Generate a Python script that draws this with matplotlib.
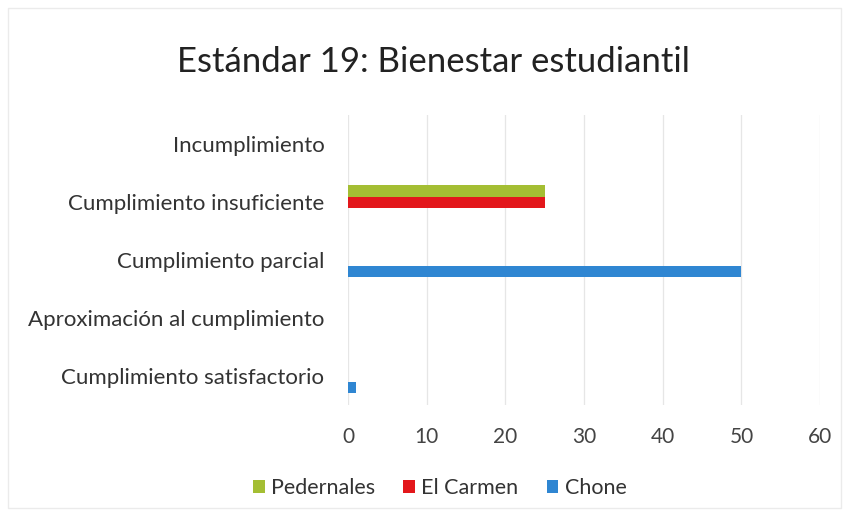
import matplotlib
matplotlib.use("Agg")
import matplotlib.pyplot as plt
import numpy as np

categories = ["Incumplimiento", "Cumplimiento insuficiente", "Cumplimiento parcial",
              "Aproximación al cumplimiento", "Cumplimiento satisfactorio"]
series_names = ["Pedernales", "El Carmen", "Chone"]
pedernales = [0, 25, 0, 0, 0]
el_carmen = [0, 25, 0, 0, 0]
chone = [0, 0, 50, 0, 1]
x_ticks = [0, 10, 20, 30, 40, 50, 60]
title = "Estándar 19: Bienestar estudiantil"

colors = ["#A4BE33", "#E3171B", "#2F86D2"]
font = "Lato"

fig = plt.figure(figsize=(8.49, 5.18), dpi=100)
ax = fig.add_axes([0.41, 0.218, 0.556, 0.56])

n = len(categories)
y = np.arange(n)
h = 0.19
offsets = [-h, 0, h]
for vals, off, col, name in zip([pedernales, el_carmen, chone], offsets, colors, series_names):
    ax.barh(y + off, vals, height=h, color=col, label=name, zorder=3)

ax.set_ylim(n - 0.5, -0.5)
ax.set_xlim(0, 60)
ax.set_xticks(x_ticks)
ax.set_yticks(y)
ax.set_yticklabels(categories, fontsize=16, family=font, color="#333333")
ax.tick_params(axis="x", labelsize=15, colors="#444444", length=0, pad=16)
ax.tick_params(axis="y", length=0, pad=17)
for lbl in ax.get_xticklabels():
    lbl.set_family(font)
ax.grid(axis="x", color="#E6E6E6", linewidth=0.9, zorder=0)
for s in ax.spines.values():
    s.set_visible(False)

fig.text(0.51, 0.88, title, ha="center", va="center", fontsize=25, family=font, color="#222222")

handles, labels = ax.get_legend_handles_labels()
leg = fig.legend(handles, labels, loc="center", bbox_to_anchor=(0.518, 0.058), ncol=3,
                 frameon=False, prop={"family": font, "size": 15.5}, handlelength=0.55,
                 handleheight=0.55, handletextpad=0.3, columnspacing=1.3)
for t in leg.get_texts():
    t.set_color("#333333")

border = plt.Rectangle((0.01, 0.02), 0.98, 0.965, transform=fig.transFigure,
                       fill=False, edgecolor="#EBEBEB", linewidth=1)
fig.patches.append(border)

fig.savefig("out.png", dpi=100)
